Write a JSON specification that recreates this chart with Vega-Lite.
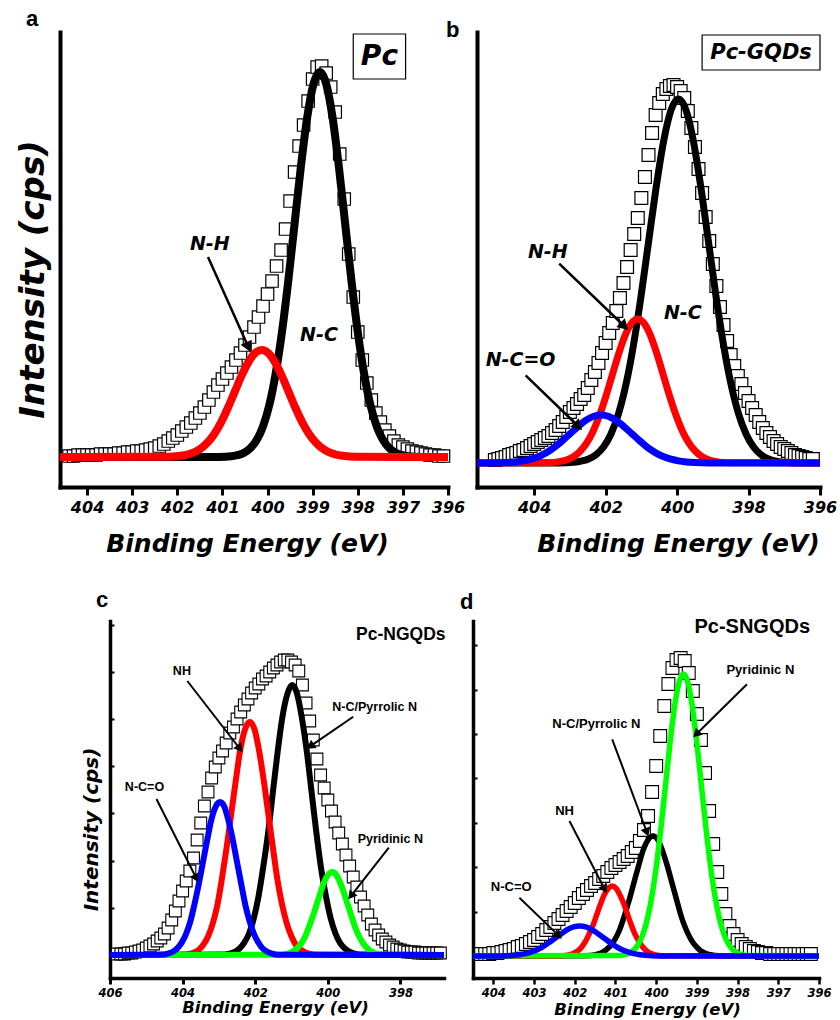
{
"$schema": "https://vega.github.io/schema/vega-lite/v6.json",
"background": "white",
"padding": {"left": 16, "top": 8, "right": 0, "bottom": 0},
"config": {
 "view": {"stroke": null},
 "axis": {"grid": false, "domainColor": "black", "tickColor": "black", "labelColor": "black", "titleColor": "black", "labelFont": "DejaVu Sans", "titleFont": "DejaVu Sans", "labelFontWeight": "bold", "labelFontStyle": "italic", "titleFontWeight": "bold", "titleFontStyle": "italic", "labelFlush": false, "labelOverlap": false, "domainCap": "square"}
},
"datasets": {
"aE": [{"E":404.4,"I":1},{"E":404.3,"I":1},{"E":404.2,"I":2},{"E":404.1,"I":2},{"E":404.0,"I":2},{"E":403.9,"I":2},{"E":403.8,"I":2},{"E":403.7,"I":3},{"E":403.6,"I":3},{"E":403.5,"I":3},{"E":403.4,"I":3},{"E":403.3,"I":4},{"E":403.2,"I":4},{"E":403.1,"I":5},{"E":403.0,"I":5},{"E":402.9,"I":6},{"E":402.8,"I":6},{"E":402.7,"I":7},{"E":402.6,"I":8},{"E":402.5,"I":9},{"E":402.4,"I":11},{"E":402.3,"I":13},{"E":402.2,"I":16},{"E":402.1,"I":19},{"E":402.0,"I":22},{"E":401.9,"I":26},{"E":401.8,"I":30},{"E":401.7,"I":34},{"E":401.6,"I":39},{"E":401.5,"I":44},{"E":401.4,"I":50},{"E":401.3,"I":57},{"E":401.2,"I":65},{"E":401.1,"I":72},{"E":401.0,"I":78},{"E":400.9,"I":84},{"E":400.8,"I":90},{"E":400.7,"I":97},{"E":400.6,"I":104},{"E":400.5,"I":112},{"E":400.4,"I":120},{"E":400.3,"I":130},{"E":400.2,"I":140},{"E":400.1,"I":151},{"E":400.0,"I":163},{"E":399.9,"I":176},{"E":399.8,"I":191},{"E":399.7,"I":207},{"E":399.6,"I":228},{"E":399.5,"I":256},{"E":399.4,"I":285},{"E":399.3,"I":311},{"E":399.2,"I":332},{"E":399.1,"I":356},{"E":399.0,"I":378},{"E":398.9,"I":390},{"E":398.8,"I":391},{"E":398.7,"I":384},{"E":398.6,"I":370},{"E":398.5,"I":345},{"E":398.4,"I":303},{"E":398.3,"I":258},{"E":398.2,"I":203},{"E":398.1,"I":160},{"E":398.0,"I":125},{"E":397.9,"I":97},{"E":397.8,"I":74},{"E":397.7,"I":57},{"E":397.6,"I":44},{"E":397.5,"I":35},{"E":397.4,"I":27},{"E":397.3,"I":21},{"E":397.2,"I":16},{"E":397.1,"I":12},{"E":397.0,"I":10},{"E":396.9,"I":8},{"E":396.8,"I":6},{"E":396.7,"I":5},{"E":396.6,"I":4},{"E":396.5,"I":3},{"E":396.4,"I":2},{"E":396.3,"I":2},{"E":396.2,"I":1},{"E":396.1,"I":1}],
"aNC": [{"E":404.6,"I":0},{"E":401.08,"I":0.1},{"E":400.8,"I":0.8},{"E":400.52,"I":4.3},{"E":400.38,"I":8.8},{"E":400.24,"I":16.9},{"E":400.1,"I":30.6},{"E":399.96,"I":52.1},{"E":399.82,"I":83.3},{"E":399.68,"I":125},{"E":399.54,"I":176.3},{"E":399.4,"I":233.5},{"E":399.26,"I":290.6},{"E":399.12,"I":339.8},{"E":398.98,"I":373.1},{"E":398.84,"I":385},{"E":398.7,"I":373.1},{"E":398.56,"I":339.8},{"E":398.42,"I":290.6},{"E":398.28,"I":233.5},{"E":398.14,"I":176.3},{"E":398.0,"I":125},{"E":397.86,"I":83.3},{"E":397.72,"I":52.1},{"E":397.58,"I":30.6},{"E":397.44,"I":16.9},{"E":397.3,"I":8.8},{"E":397.16,"I":4.3},{"E":396.88,"I":0.8},{"E":396.6,"I":0.1},{"E":396.0,"I":0}],
"aNH": [{"E":404.6,"I":0},{"E":402.23,"I":0.2},{"E":401.93,"I":1.2},{"E":401.78,"I":2.4},{"E":401.63,"I":4.7},{"E":401.48,"I":8.5},{"E":401.33,"I":14.5},{"E":401.18,"I":23.1},{"E":401.03,"I":34.7},{"E":400.88,"I":49},{"E":400.73,"I":64.9},{"E":400.58,"I":80.8},{"E":400.43,"I":94.4},{"E":400.28,"I":103.7},{"E":400.13,"I":107},{"E":399.98,"I":103.7},{"E":399.83,"I":94.4},{"E":399.68,"I":80.8},{"E":399.53,"I":64.9},{"E":399.38,"I":49},{"E":399.23,"I":34.7},{"E":399.08,"I":23.1},{"E":398.93,"I":14.5},{"E":398.78,"I":8.5},{"E":398.63,"I":4.7},{"E":398.48,"I":2.4},{"E":398.33,"I":1.2},{"E":398.03,"I":0.2},{"E":396.0,"I":0}],
"bE": [{"E":405.1,"I":3},{"E":405.0,"I":4},{"E":404.9,"I":5},{"E":404.8,"I":6},{"E":404.7,"I":8},{"E":404.6,"I":9},{"E":404.5,"I":10},{"E":404.4,"I":12},{"E":404.3,"I":13},{"E":404.2,"I":15},{"E":404.1,"I":17},{"E":404.0,"I":19},{"E":403.9,"I":21},{"E":403.8,"I":23},{"E":403.7,"I":25},{"E":403.6,"I":27},{"E":403.5,"I":30},{"E":403.4,"I":33},{"E":403.3,"I":37},{"E":403.2,"I":41},{"E":403.1,"I":46},{"E":403.0,"I":51},{"E":402.9,"I":55},{"E":402.8,"I":59},{"E":402.7,"I":64},{"E":402.6,"I":68},{"E":402.5,"I":75},{"E":402.4,"I":83},{"E":402.3,"I":91},{"E":402.2,"I":100},{"E":402.1,"I":110},{"E":402.0,"I":120},{"E":401.9,"I":130},{"E":401.8,"I":140},{"E":401.7,"I":152},{"E":401.6,"I":165},{"E":401.5,"I":180},{"E":401.4,"I":196},{"E":401.3,"I":213},{"E":401.2,"I":229},{"E":401.1,"I":245},{"E":401.0,"I":265},{"E":400.9,"I":286},{"E":400.8,"I":308},{"E":400.7,"I":330},{"E":400.6,"I":348},{"E":400.5,"I":360},{"E":400.4,"I":369},{"E":400.3,"I":374},{"E":400.2,"I":377},{"E":400.1,"I":378},{"E":400.0,"I":376},{"E":399.9,"I":372},{"E":399.8,"I":365},{"E":399.7,"I":352},{"E":399.6,"I":335},{"E":399.5,"I":316},{"E":399.4,"I":294},{"E":399.3,"I":270},{"E":399.2,"I":246},{"E":399.1,"I":222},{"E":399.0,"I":199},{"E":398.9,"I":177},{"E":398.8,"I":156},{"E":398.7,"I":138},{"E":398.6,"I":122},{"E":398.5,"I":108},{"E":398.4,"I":97},{"E":398.3,"I":87},{"E":398.2,"I":79},{"E":398.1,"I":70},{"E":398.0,"I":62},{"E":397.9,"I":55},{"E":397.8,"I":48},{"E":397.7,"I":41},{"E":397.6,"I":35},{"E":397.5,"I":30},{"E":397.4,"I":26},{"E":397.3,"I":22},{"E":397.2,"I":19},{"E":397.1,"I":16},{"E":397.0,"I":14},{"E":396.9,"I":12},{"E":396.8,"I":10},{"E":396.7,"I":8},{"E":396.6,"I":7},{"E":396.5,"I":6},{"E":396.4,"I":5},{"E":396.3,"I":4},{"E":396.2,"I":4}],
"bNC": [{"E":405.6,"I":0},{"E":403.32,"I":0.1},{"E":402.9,"I":0.8},{"E":402.48,"I":4.0},{"E":402.27,"I":8.3},{"E":402.06,"I":16.0},{"E":401.85,"I":29.0},{"E":401.64,"I":49.2},{"E":401.43,"I":78.7},{"E":401.22,"I":118.2},{"E":401.01,"I":166.6},{"E":400.8,"I":220.8},{"E":400.59,"I":274.7},{"E":400.38,"I":321.2},{"E":400.17,"I":352.8},{"E":399.96,"I":364},{"E":399.75,"I":352.8},{"E":399.54,"I":321.2},{"E":399.33,"I":274.7},{"E":399.12,"I":220.8},{"E":398.91,"I":166.6},{"E":398.7,"I":118.2},{"E":398.49,"I":78.7},{"E":398.28,"I":49.2},{"E":398.07,"I":29.0},{"E":397.86,"I":16.0},{"E":397.65,"I":8.3},{"E":397.44,"I":4.0},{"E":397.02,"I":0.8},{"E":396.6,"I":0.1},{"E":396.0,"I":0}],
"bNH": [{"E":405.6,"I":0},{"E":403.62,"I":0.3},{"E":403.26,"I":1.6},{"E":403.08,"I":3.3},{"E":402.9,"I":6.3},{"E":402.72,"I":11.5},{"E":402.54,"I":19.5},{"E":402.36,"I":31.1},{"E":402.18,"I":46.8},{"E":402.0,"I":65.9},{"E":401.82,"I":87.3},{"E":401.64,"I":108.7},{"E":401.46,"I":127.1},{"E":401.28,"I":139.6},{"E":401.1,"I":144},{"E":400.92,"I":139.6},{"E":400.74,"I":127.1},{"E":400.56,"I":108.7},{"E":400.38,"I":87.3},{"E":400.2,"I":65.9},{"E":400.02,"I":46.8},{"E":399.84,"I":31.1},{"E":399.66,"I":19.5},{"E":399.48,"I":11.5},{"E":399.3,"I":6.3},{"E":399.12,"I":3.3},{"E":398.94,"I":1.6},{"E":398.58,"I":0.3},{"E":396.0,"I":0}],
"bNCO": [{"E":405.6,"I":0},{"E":405.18,"I":0.1},{"E":404.74,"I":0.5},{"E":404.52,"I":1.1},{"E":404.31,"I":2.1},{"E":404.09,"I":3.8},{"E":403.87,"I":6.5},{"E":403.65,"I":10.4},{"E":403.44,"I":15.6},{"E":403.22,"I":22.0},{"E":403.0,"I":29.1},{"E":402.78,"I":36.2},{"E":402.57,"I":42.4},{"E":402.35,"I":46.5},{"E":402.13,"I":48},{"E":401.91,"I":46.5},{"E":401.7,"I":42.4},{"E":401.48,"I":36.2},{"E":401.26,"I":29.1},{"E":401.04,"I":22.0},{"E":400.83,"I":15.6},{"E":400.61,"I":10.4},{"E":400.39,"I":6.5},{"E":400.17,"I":3.8},{"E":399.96,"I":2.1},{"E":399.74,"I":1.1},{"E":399.52,"I":0.5},{"E":399.09,"I":0.1},{"E":396.0,"I":0}],
"cE": [{"E":405.8,"I":1},{"E":405.7,"I":1},{"E":405.6,"I":1},{"E":405.5,"I":2},{"E":405.4,"I":2},{"E":405.3,"I":3},{"E":405.2,"I":4},{"E":405.1,"I":5},{"E":405.0,"I":7},{"E":404.9,"I":9},{"E":404.8,"I":11},{"E":404.7,"I":14},{"E":404.6,"I":17},{"E":404.5,"I":21},{"E":404.4,"I":27},{"E":404.3,"I":35},{"E":404.2,"I":44},{"E":404.1,"I":54},{"E":404.0,"I":64},{"E":403.9,"I":74},{"E":403.8,"I":84},{"E":403.7,"I":97},{"E":403.6,"I":115},{"E":403.5,"I":132},{"E":403.4,"I":149},{"E":403.3,"I":163},{"E":403.2,"I":177},{"E":403.1,"I":188},{"E":403.0,"I":197},{"E":402.9,"I":204},{"E":402.8,"I":212},{"E":402.7,"I":222},{"E":402.6,"I":228},{"E":402.5,"I":236},{"E":402.4,"I":243},{"E":402.3,"I":250},{"E":402.2,"I":256},{"E":402.1,"I":262},{"E":402.0,"I":267},{"E":401.9,"I":271},{"E":401.8,"I":276},{"E":401.7,"I":279},{"E":401.6,"I":283},{"E":401.5,"I":287},{"E":401.4,"I":290},{"E":401.3,"I":293},{"E":401.2,"I":295},{"E":401.1,"I":295},{"E":401.0,"I":293},{"E":400.9,"I":290},{"E":400.8,"I":284},{"E":400.7,"I":270},{"E":400.6,"I":252},{"E":400.5,"I":234},{"E":400.4,"I":215},{"E":400.3,"I":196},{"E":400.2,"I":180},{"E":400.1,"I":167},{"E":400.0,"I":155},{"E":399.9,"I":144},{"E":399.8,"I":133},{"E":399.7,"I":122},{"E":399.6,"I":111},{"E":399.5,"I":100},{"E":399.4,"I":89},{"E":399.3,"I":78},{"E":399.2,"I":68},{"E":399.1,"I":58},{"E":399.0,"I":49},{"E":398.9,"I":40},{"E":398.8,"I":31},{"E":398.7,"I":25},{"E":398.6,"I":20},{"E":398.5,"I":16},{"E":398.4,"I":13},{"E":398.3,"I":10},{"E":398.2,"I":8},{"E":398.1,"I":6},{"E":398.0,"I":5},{"E":397.9,"I":4},{"E":397.8,"I":3},{"E":397.7,"I":3},{"E":397.6,"I":3},{"E":397.5,"I":2},{"E":397.4,"I":2},{"E":397.3,"I":2},{"E":397.2,"I":2},{"E":397.1,"I":2},{"E":397.0,"I":2},{"E":396.9,"I":2}],
"cNC": [{"E":406,"I":0},{"E":402.84,"I":0.6},{"E":402.57,"I":3.0},{"E":402.44,"I":6.2},{"E":402.31,"I":11.9},{"E":402.17,"I":21.5},{"E":402.04,"I":36.5},{"E":401.91,"I":58.4},{"E":401.78,"I":87.7},{"E":401.64,"I":123.6},{"E":401.51,"I":163.8},{"E":401.38,"I":203.8},{"E":401.25,"I":238.3},{"E":401.11,"I":261.7},{"E":400.98,"I":270},{"E":400.85,"I":261.7},{"E":400.72,"I":238.3},{"E":400.58,"I":203.8},{"E":400.45,"I":163.8},{"E":400.32,"I":123.6},{"E":400.19,"I":87.7},{"E":400.05,"I":58.4},{"E":399.92,"I":36.5},{"E":399.79,"I":21.5},{"E":399.66,"I":11.9},{"E":399.52,"I":6.2},{"E":399.39,"I":3.0},{"E":399.13,"I":0.6},{"E":396.8,"I":0}],
"cNH": [{"E":406,"I":0},{"E":403.94,"I":0.5},{"E":403.68,"I":2.6},{"E":403.55,"I":5.3},{"E":403.43,"I":10.2},{"E":403.3,"I":18.5},{"E":403.17,"I":31.5},{"E":403.04,"I":50.4},{"E":402.92,"I":75.7},{"E":402.79,"I":106.7},{"E":402.66,"I":141.3},{"E":402.53,"I":175.9},{"E":402.41,"I":205.6},{"E":402.28,"I":225.8},{"E":402.15,"I":233},{"E":402.02,"I":225.8},{"E":401.9,"I":205.6},{"E":401.77,"I":175.9},{"E":401.64,"I":141.3},{"E":401.51,"I":106.7},{"E":401.39,"I":75.7},{"E":401.26,"I":50.4},{"E":401.13,"I":31.5},{"E":401.0,"I":18.5},{"E":400.88,"I":10.2},{"E":400.75,"I":5.3},{"E":400.62,"I":2.6},{"E":400.37,"I":0.5},{"E":396.8,"I":0}],
"cNCO": [{"E":406,"I":0},{"E":404.62,"I":0.3},{"E":404.38,"I":1.7},{"E":404.26,"I":3.5},{"E":404.15,"I":6.7},{"E":404.03,"I":12.2},{"E":403.91,"I":20.7},{"E":403.79,"I":33.1},{"E":403.68,"I":49.7},{"E":403.56,"I":70.0},{"E":403.44,"I":92.8},{"E":403.32,"I":115.5},{"E":403.21,"I":135.0},{"E":403.09,"I":148.3},{"E":402.97,"I":153},{"E":402.85,"I":148.3},{"E":402.74,"I":135.0},{"E":402.62,"I":115.5},{"E":402.5,"I":92.8},{"E":402.38,"I":70.0},{"E":402.27,"I":49.7},{"E":402.15,"I":33.1},{"E":402.03,"I":20.7},{"E":401.91,"I":12.2},{"E":401.8,"I":6.7},{"E":401.68,"I":3.5},{"E":401.56,"I":1.7},{"E":401.33,"I":0.3},{"E":396.8,"I":0}],
"cPy": [{"E":406,"I":0},{"E":401.39,"I":0.2},{"E":401.17,"I":0.9},{"E":401.06,"I":1.9},{"E":400.96,"I":3.6},{"E":400.85,"I":6.6},{"E":400.74,"I":11.2},{"E":400.63,"I":18.0},{"E":400.53,"I":27.0},{"E":400.42,"I":38.0},{"E":400.31,"I":50.3},{"E":400.2,"I":62.6},{"E":400.1,"I":73.2},{"E":399.99,"I":80.4},{"E":399.88,"I":83},{"E":399.77,"I":80.4},{"E":399.67,"I":73.2},{"E":399.56,"I":62.6},{"E":399.45,"I":50.3},{"E":399.34,"I":38.0},{"E":399.24,"I":27.0},{"E":399.13,"I":18.0},{"E":399.02,"I":11.2},{"E":398.91,"I":6.6},{"E":398.81,"I":3.6},{"E":398.7,"I":1.9},{"E":398.59,"I":0.9},{"E":398.38,"I":0.2},{"E":396.8,"I":0}],
"dE": [{"E":404.3,"I":2},{"E":404.2,"I":2},{"E":404.1,"I":2},{"E":404.0,"I":3},{"E":403.9,"I":3},{"E":403.8,"I":4},{"E":403.7,"I":5},{"E":403.6,"I":6},{"E":403.5,"I":7},{"E":403.4,"I":9},{"E":403.3,"I":10},{"E":403.2,"I":12},{"E":403.1,"I":14},{"E":403.0,"I":16},{"E":402.9,"I":19},{"E":402.8,"I":22},{"E":402.7,"I":26},{"E":402.6,"I":29},{"E":402.5,"I":33},{"E":402.4,"I":37},{"E":402.3,"I":41},{"E":402.2,"I":45},{"E":402.1,"I":49},{"E":402.0,"I":53},{"E":401.9,"I":58},{"E":401.8,"I":62},{"E":401.7,"I":66},{"E":401.6,"I":70},{"E":401.5,"I":73},{"E":401.4,"I":77},{"E":401.3,"I":80},{"E":401.2,"I":84},{"E":401.1,"I":88},{"E":401.0,"I":91},{"E":400.9,"I":94},{"E":400.8,"I":97},{"E":400.7,"I":100},{"E":400.6,"I":104},{"E":400.5,"I":108},{"E":400.4,"I":115},{"E":400.3,"I":126},{"E":400.2,"I":140},{"E":400.1,"I":164},{"E":400.0,"I":190},{"E":399.9,"I":220},{"E":399.8,"I":250},{"E":399.7,"I":272},{"E":399.6,"I":288},{"E":399.5,"I":296},{"E":399.4,"I":298},{"E":399.3,"I":295},{"E":399.2,"I":283},{"E":399.1,"I":265},{"E":399.0,"I":242},{"E":398.9,"I":216},{"E":398.8,"I":183},{"E":398.7,"I":145},{"E":398.6,"I":112},{"E":398.5,"I":84},{"E":398.4,"I":62},{"E":398.3,"I":42},{"E":398.2,"I":30},{"E":398.1,"I":22},{"E":398.0,"I":16},{"E":397.9,"I":12},{"E":397.8,"I":9},{"E":397.7,"I":7},{"E":397.6,"I":5},{"E":397.5,"I":4},{"E":397.4,"I":3},{"E":397.3,"I":3},{"E":397.2,"I":2},{"E":397.1,"I":2},{"E":397.0,"I":2},{"E":396.9,"I":2},{"E":396.8,"I":2},{"E":396.7,"I":2},{"E":396.6,"I":2},{"E":396.5,"I":2},{"E":396.4,"I":2},{"E":396.3,"I":2},{"E":396.2,"I":2}],
"dPy": [{"E":404.5,"I":0},{"E":400.87,"I":0.6},{"E":400.65,"I":3.1},{"E":400.54,"I":6.4},{"E":400.43,"I":12.4},{"E":400.32,"I":22.4},{"E":400.21,"I":38.2},{"E":400.1,"I":61.0},{"E":399.99,"I":91.6},{"E":399.88,"I":129.1},{"E":399.77,"I":171.0},{"E":399.66,"I":212.9},{"E":399.55,"I":248.9},{"E":399.44,"I":273.3},{"E":399.33,"I":282},{"E":399.22,"I":273.3},{"E":399.11,"I":248.9},{"E":399.0,"I":212.9},{"E":398.89,"I":171.0},{"E":398.78,"I":129.1},{"E":398.67,"I":91.6},{"E":398.56,"I":61.0},{"E":398.45,"I":38.2},{"E":398.34,"I":22.4},{"E":398.23,"I":12.4},{"E":398.12,"I":6.4},{"E":398.01,"I":3.1},{"E":397.79,"I":0.6},{"E":396.0,"I":0}],
"dNC": [{"E":404.5,"I":0},{"E":401.73,"I":0.3},{"E":401.49,"I":1.3},{"E":401.37,"I":2.7},{"E":401.26,"I":5.3},{"E":401.14,"I":9.6},{"E":401.02,"I":16.2},{"E":400.9,"I":26.0},{"E":400.79,"I":39.0},{"E":400.67,"I":54.9},{"E":400.55,"I":72.8},{"E":400.43,"I":90.6},{"E":400.32,"I":105.9},{"E":400.2,"I":116.3},{"E":400.08,"I":120},{"E":399.96,"I":116.3},{"E":399.85,"I":105.9},{"E":399.73,"I":90.6},{"E":399.61,"I":72.8},{"E":399.49,"I":54.9},{"E":399.38,"I":39.0},{"E":399.26,"I":26.0},{"E":399.14,"I":16.2},{"E":399.02,"I":9.6},{"E":398.91,"I":5.3},{"E":398.79,"I":2.7},{"E":398.67,"I":1.3},{"E":398.44,"I":0.3},{"E":396.0,"I":0}],
"dNH": [{"E":404.5,"I":0},{"E":402.38,"I":0.2},{"E":402.19,"I":0.8},{"E":402.1,"I":1.6},{"E":402.01,"I":3.1},{"E":401.91,"I":5.6},{"E":401.82,"I":9.5},{"E":401.73,"I":15.1},{"E":401.64,"I":22.7},{"E":401.54,"I":32.0},{"E":401.45,"I":42.5},{"E":401.36,"I":52.8},{"E":401.27,"I":61.8},{"E":401.17,"I":67.8},{"E":401.08,"I":70},{"E":400.99,"I":67.8},{"E":400.9,"I":61.8},{"E":400.8,"I":52.8},{"E":400.71,"I":42.5},{"E":400.62,"I":32.0},{"E":400.53,"I":22.7},{"E":400.43,"I":15.1},{"E":400.34,"I":9.5},{"E":400.25,"I":5.6},{"E":400.16,"I":3.1},{"E":400.06,"I":1.6},{"E":399.97,"I":0.8},{"E":399.79,"I":0.2},{"E":396.0,"I":0}],
"dNCO": [{"E":404.5,"I":0},{"E":403.95,"I":0.1},{"E":403.65,"I":0.3},{"E":403.5,"I":0.7},{"E":403.36,"I":1.3},{"E":403.21,"I":2.4},{"E":403.06,"I":4.1},{"E":402.91,"I":6.5},{"E":402.77,"I":9.7},{"E":402.62,"I":13.7},{"E":402.47,"I":18.2},{"E":402.32,"I":22.6},{"E":402.18,"I":26.5},{"E":402.03,"I":29.1},{"E":401.88,"I":30},{"E":401.73,"I":29.1},{"E":401.59,"I":26.5},{"E":401.44,"I":22.6},{"E":401.29,"I":18.2},{"E":401.14,"I":13.7},{"E":400.99,"I":9.7},{"E":400.85,"I":6.5},{"E":400.7,"I":4.1},{"E":400.55,"I":2.4},{"E":400.4,"I":1.3},{"E":400.26,"I":0.7},{"E":400.11,"I":0.3},{"E":399.82,"I":0.1},{"E":396.0,"I":0}]
},
"bounds": "full",
"spacing": 33,
"vconcat": [
{"hconcat": [
{
 "width": 388, "height": 455,
 "title": {"text": "a", "frame": "group", "anchor": "start", "dx": -34, "dy": 18, "offset": 2, "baseline": "alphabetic", "font": "Liberation Sans", "fontSize": 22, "fontWeight": "bold", "color": "black"},
 "layer": [
  {"encoding": {
    "x": {"field": "E", "type": "quantitative", "scale": {"domain": [396, 404.6], "reverse": true, "nice": false, "zero": false},
     "axis": {"values": [404,403,402,401,400,399,398,397,396], "format": "d", "title": "Binding Energy (eV)", "domainWidth": 4, "tickWidth": 3, "tickSize": 8, "labelFontSize": 16, "labelPadding": 4, "titleFontSize": 25, "titlePadding": 16, "titleX": 187}},
    "y": {"field": "I", "type": "quantitative", "scale": {"domain": [-30, 425], "nice": false, "zero": false},
     "axis": {"title": "Intensity (cps)", "labels": false, "ticks": false, "domainWidth": 4, "titleFontSize": 34, "titlePadding": 10, "titleY": 247}}
   },
   "layer": [
    {"data": {"name": "aE"}, "mark": {"type": "point", "shape": "square", "size": 155, "filled": true, "fill": "white", "stroke": "black", "strokeWidth": 1.2, "opacity": 1}},
    {"data": {"name": "aNC"}, "mark": {"type": "line", "color": "black", "strokeWidth": 8, "interpolate": "monotone"}},
    {"data": {"name": "aNH"}, "mark": {"type": "line", "color": "#ff0000", "strokeWidth": 8, "interpolate": "monotone"}}
   ]},
  {"data": {"values": [{}]}, "mark": {"type": "rect", "fill": "white", "stroke": "black", "strokeWidth": 1.2}, "encoding": {"x": {"datum": 398.1}, "x2": {"datum": 396.94}, "y": {"datum": 378}, "y2": {"datum": 423}}},
  {"data": {"values": [{}]}, "mark": {"type": "text", "text": "Pc", "font": "DejaVu Sans", "fontSize": 28, "fontWeight": "bold", "fontStyle": "italic", "color": "black"}, "encoding": {"x": {"datum": 397.52}, "y": {"datum": 400}}},
  {"data": {"values": [{}]}, "mark": {"type": "text", "text": "N-H", "font": "DejaVu Sans", "fontSize": 19, "fontWeight": "bold", "fontStyle": "italic", "color": "black"}, "encoding": {"x": {"datum": 401.28}, "y": {"datum": 213}}},
  {"data": {"values": [{}]}, "mark": {"type": "text", "text": "N-C", "font": "DejaVu Sans", "fontSize": 19, "fontWeight": "bold", "fontStyle": "italic", "color": "black"}, "encoding": {"x": {"datum": 398.86}, "y": {"datum": 122}}},
  {"data": {"values": [{}]}, "mark": {"type": "rule", "color": "black", "strokeWidth": 2.5}, "encoding": {"x": {"datum": 401.32}, "y": {"datum": 200}, "x2": {"datum": 400.44}, "y2": {"datum": 111.5}}},
  {"data": {"values": [{}]}, "mark": {"type": "point", "shape": "triangle", "filled": true, "color": "black", "opacity": 1, "size": 150, "angle": 155.9}, "encoding": {"x": {"datum": 400.44}, "y": {"datum": 111.5}}}
 ]
},
{
 "width": 343, "height": 455,
 "title": {"text": "b", "frame": "group", "anchor": "start", "dx": -31, "dy": 29, "offset": 2, "baseline": "alphabetic", "font": "Liberation Sans", "fontSize": 22, "fontWeight": "bold", "color": "black"},
 "layer": [
  {"encoding": {
    "x": {"field": "E", "type": "quantitative", "scale": {"domain": [396, 405.6], "reverse": true, "nice": false, "zero": false},
     "axis": {"values": [404,402,400,398,396], "format": "d", "title": "Binding Energy (eV)", "domainWidth": 4, "tickWidth": 3, "tickSize": 8, "labelFontSize": 16, "labelPadding": 4, "titleFontSize": 25, "titlePadding": 16, "titleX": 201}},
    "y": {"field": "I", "type": "quantitative", "scale": {"domain": [-24, 431], "nice": false, "zero": false},
     "axis": {"title": null, "labels": false, "ticks": false, "domainWidth": 4}}
   },
   "layer": [
    {"data": {"name": "bE"}, "mark": {"type": "point", "shape": "square", "size": 165, "filled": true, "fill": "white", "stroke": "black", "strokeWidth": 1.2, "opacity": 1}},
    {"data": {"name": "bNC"}, "mark": {"type": "line", "color": "black", "strokeWidth": 7, "interpolate": "monotone"}},
    {"data": {"name": "bNH"}, "mark": {"type": "line", "color": "#ff0000", "strokeWidth": 7, "interpolate": "monotone"}},
    {"data": {"name": "bNCO"}, "mark": {"type": "line", "color": "#0000ff", "strokeWidth": 7, "interpolate": "monotone"}}
   ]},
  {"data": {"values": [{}]}, "mark": {"type": "rect", "fill": "white", "stroke": "black", "strokeWidth": 1.2}, "encoding": {"x": {"datum": 399.3}, "x2": {"datum": 396.0}, "y": {"datum": 393}, "y2": {"datum": 428}}},
  {"data": {"values": [{}]}, "mark": {"type": "text", "text": "Pc-GQDs", "font": "DejaVu Sans", "fontSize": 21, "fontWeight": "bold", "fontStyle": "italic", "color": "black"}, "encoding": {"x": {"datum": 397.65}, "y": {"datum": 410}}},
  {"data": {"values": [{}]}, "mark": {"type": "text", "text": "N-H", "font": "DejaVu Sans", "fontSize": 19, "fontWeight": "bold", "fontStyle": "italic", "color": "black"}, "encoding": {"x": {"datum": 403.62}, "y": {"datum": 211}}},
  {"data": {"values": [{}]}, "mark": {"type": "text", "text": "N-C", "font": "DejaVu Sans", "fontSize": 19, "fontWeight": "bold", "fontStyle": "italic", "color": "black"}, "encoding": {"x": {"datum": 399.84}, "y": {"datum": 150}}},
  {"data": {"values": [{}]}, "mark": {"type": "text", "text": "N-C=O", "font": "DejaVu Sans", "fontSize": 19, "fontWeight": "bold", "fontStyle": "italic", "color": "black"}, "encoding": {"x": {"datum": 404.38}, "y": {"datum": 103}}},
  {"data": {"values": [{}]}, "mark": {"type": "rule", "color": "black", "strokeWidth": 2.5}, "encoding": {"x": {"datum": 403.3}, "y": {"datum": 199.3}, "x2": {"datum": 401.51}, "y2": {"datum": 138}}},
  {"data": {"values": [{}]}, "mark": {"type": "point", "shape": "triangle", "filled": true, "color": "black", "opacity": 1, "size": 150, "angle": 133.9}, "encoding": {"x": {"datum": 401.51}, "y": {"datum": 138}}},
  {"data": {"values": [{}]}, "mark": {"type": "rule", "color": "black", "strokeWidth": 2.5}, "encoding": {"x": {"datum": 404.24}, "y": {"datum": 87.7}, "x2": {"datum": 402.8}, "y2": {"datum": 38}}},
  {"data": {"values": [{}]}, "mark": {"type": "point", "shape": "triangle", "filled": true, "color": "black", "opacity": 1, "size": 150, "angle": 134.2}, "encoding": {"x": {"datum": 402.8}, "y": {"datum": 38}}}
 ]
}
], "spacing": 29, "bounds": "flush"},
{"hconcat": [
{"width": 21, "height": 357, "data": {"values": []}, "mark": "point"},
{
 "width": 334, "height": 357,
 "title": {"text": "c", "frame": "group", "anchor": "start", "dx": -14, "dy": 23, "offset": 15, "baseline": "alphabetic", "font": "Liberation Sans", "fontSize": 22, "fontWeight": "bold", "color": "black"},
 "layer": [
  {"encoding": {
    "x": {"field": "E", "type": "quantitative", "scale": {"domain": [396.8, 406], "reverse": true, "nice": false, "zero": false},
     "axis": {"values": [406,404,402,400,398], "format": "d", "title": "Binding Energy (eV)", "domainWidth": 3.5, "tickWidth": 3, "tickSize": 6, "labelFontSize": 11.5, "labelPadding": 3, "titleFontSize": 16.5, "titlePadding": 1, "titleX": 165}},
    "y": {"field": "I", "type": "quantitative", "scale": {"domain": [-23, 334], "nice": false, "zero": false},
     "axis": {"title": "Intensity (cps)", "labels": false, "values": [0,23.6,47.2,70.8,94.4,118,141.6,165.2,188.8,212.4,236,259.6,283.2,306.8,330.4], "tickSize": -4, "tickWidth": 2, "domainWidth": 3.5, "titleFontSize": 20, "titlePadding": 8, "titleY": 208}}
   },
   "layer": [
    {"data": {"name": "cE"}, "mark": {"type": "point", "shape": "square", "size": 140, "filled": true, "fill": "white", "stroke": "black", "strokeWidth": 1.1, "opacity": 1}},
    {"data": {"name": "cNC"}, "mark": {"type": "line", "color": "black", "strokeWidth": 6, "interpolate": "monotone"}},
    {"data": {"name": "cNH"}, "mark": {"type": "line", "color": "#ff0000", "strokeWidth": 6, "interpolate": "monotone"}},
    {"data": {"name": "cPy"}, "mark": {"type": "line", "color": "#00ff00", "strokeWidth": 6, "interpolate": "monotone"}},
    {"data": {"name": "cNCO"}, "mark": {"type": "line", "color": "#0000ff", "strokeWidth": 6, "interpolate": "monotone"}}
   ]},
  {"data": {"values": [{}]}, "mark": {"type": "text", "text": "Pc-NGQDs", "font": "Liberation Sans", "fontSize": 17.5, "fontWeight": "bold", "color": "black"}, "encoding": {"x": {"datum": 397.99}, "y": {"datum": 320}}},
  {"data": {"values": [{}]}, "mark": {"type": "text", "text": "NH", "font": "Liberation Sans", "fontSize": 12.5, "fontWeight": "bold", "color": "black"}, "encoding": {"x": {"datum": 404.02}, "y": {"datum": 284}}},
  {"data": {"values": [{}]}, "mark": {"type": "text", "text": "N-C/Pyrrolic N", "font": "Liberation Sans", "fontSize": 12.5, "fontWeight": "bold", "color": "black"}, "encoding": {"x": {"datum": 398.71}, "y": {"datum": 248}}},
  {"data": {"values": [{}]}, "mark": {"type": "text", "text": "N-C=O", "font": "Liberation Sans", "fontSize": 12.5, "fontWeight": "bold", "color": "black"}, "encoding": {"x": {"datum": 405.05}, "y": {"datum": 168}}},
  {"data": {"values": [{}]}, "mark": {"type": "text", "text": "Pyridinic N", "font": "Liberation Sans", "fontSize": 12.5, "fontWeight": "bold", "color": "black"}, "encoding": {"x": {"datum": 398.28}, "y": {"datum": 116}}},
  {"data": {"values": [{}]}, "mark": {"type": "rule", "color": "black", "strokeWidth": 2}, "encoding": {"x": {"datum": 403.87}, "y": {"datum": 274}, "x2": {"datum": 402.45}, "y2": {"datum": 207.5}}},
  {"data": {"values": [{}]}, "mark": {"type": "point", "shape": "triangle", "filled": true, "color": "black", "opacity": 1, "size": 100, "angle": 142.1}, "encoding": {"x": {"datum": 402.45}, "y": {"datum": 207.5}}},
  {"data": {"values": [{}]}, "mark": {"type": "rule", "color": "black", "strokeWidth": 2}, "encoding": {"x": {"datum": 399.3}, "y": {"datum": 238.3}, "x2": {"datum": 400.45}, "y2": {"datum": 209.6}}},
  {"data": {"values": [{}]}, "mark": {"type": "point", "shape": "triangle", "filled": true, "color": "black", "opacity": 1, "size": 100, "angle": 235.4}, "encoding": {"x": {"datum": 400.45}, "y": {"datum": 209.6}}},
  {"data": {"values": [{}]}, "mark": {"type": "rule", "color": "black", "strokeWidth": 2}, "encoding": {"x": {"datum": 404.72}, "y": {"datum": 156}, "x2": {"datum": 403.64}, "y2": {"datum": 78}}},
  {"data": {"values": [{}]}, "mark": {"type": "point", "shape": "triangle", "filled": true, "color": "black", "opacity": 1, "size": 100, "angle": 153.2}, "encoding": {"x": {"datum": 403.64}, "y": {"datum": 78}}},
  {"data": {"values": [{}]}, "mark": {"type": "rule", "color": "black", "strokeWidth": 2}, "encoding": {"x": {"datum": 398.32}, "y": {"datum": 107.3}, "x2": {"datum": 399.34}, "y2": {"datum": 60.2}}},
  {"data": {"values": [{}]}, "mark": {"type": "point", "shape": "triangle", "filled": true, "color": "black", "opacity": 1, "size": 100, "angle": 217.9}, "encoding": {"x": {"datum": 399.34}, "y": {"datum": 60.2}}}
 ]
},
{
 "width": 346, "height": 357,
 "title": {"text": "d", "frame": "group", "anchor": "start", "dx": -13, "dy": 26, "offset": 12, "baseline": "alphabetic", "font": "Liberation Sans", "fontSize": 22, "fontWeight": "bold", "color": "black"},
 "layer": [
  {"encoding": {
    "x": {"field": "E", "type": "quantitative", "scale": {"domain": [396, 404.5], "reverse": true, "nice": false, "zero": false},
     "axis": {"values": [404,403,402,401,400,399,398,397,396], "format": "d", "title": "Binding Energy (eV)", "domainWidth": 3.5, "tickWidth": 2.5, "tickSize": 6, "labelFontSize": 11.5, "labelPadding": 3, "titleFontSize": 16.5, "titlePadding": 3, "titleX": 174}},
    "y": {"field": "I", "type": "quantitative", "scale": {"domain": [-22, 335], "nice": false, "zero": false},
     "axis": {"title": null, "labels": false, "values": [0,22.2,44.4,66.6,88.8,111,133.2,155.4,177.6,199.8,222,244.2,266.4,288.6,310.8], "tickSize": -4, "tickWidth": 2, "domainWidth": 3.5}}
   },
   "layer": [
    {"data": {"name": "dE"}, "mark": {"type": "point", "shape": "square", "size": 165, "filled": true, "fill": "white", "stroke": "black", "strokeWidth": 1.1, "opacity": 1}},
    {"data": {"name": "dNC"}, "mark": {"type": "line", "color": "black", "strokeWidth": 5.5, "interpolate": "monotone"}},
    {"data": {"name": "dNH"}, "mark": {"type": "line", "color": "#ff0000", "strokeWidth": 5.5, "interpolate": "monotone"}},
    {"data": {"name": "dPy"}, "mark": {"type": "line", "color": "#00ff00", "strokeWidth": 5.5, "interpolate": "monotone"}},
    {"data": {"name": "dNCO"}, "mark": {"type": "line", "color": "#0000ff", "strokeWidth": 5.5, "interpolate": "monotone"}}
   ]},
  {"data": {"values": [{}]}, "mark": {"type": "text", "text": "Pc-SNGQDs", "font": "Liberation Sans", "fontSize": 20, "fontWeight": "bold", "color": "black"}, "encoding": {"x": {"datum": 397.64}, "y": {"datum": 329.5}}},
  {"data": {"values": [{}]}, "mark": {"type": "text", "text": "Pyridinic N", "font": "Liberation Sans", "fontSize": 13, "fontWeight": "bold", "color": "black"}, "encoding": {"x": {"datum": 397.44}, "y": {"datum": 286}}},
  {"data": {"values": [{}]}, "mark": {"type": "text", "text": "N-C/Pyrrolic N", "font": "Liberation Sans", "fontSize": 13, "fontWeight": "bold", "color": "black"}, "encoding": {"x": {"datum": 401.47}, "y": {"datum": 232}}},
  {"data": {"values": [{}]}, "mark": {"type": "text", "text": "NH", "font": "Liberation Sans", "fontSize": 13, "fontWeight": "bold", "color": "black"}, "encoding": {"x": {"datum": 402.25}, "y": {"datum": 145}}},
  {"data": {"values": [{}]}, "mark": {"type": "text", "text": "N-C=O", "font": "Liberation Sans", "fontSize": 13, "fontWeight": "bold", "color": "black"}, "encoding": {"x": {"datum": 403.56}, "y": {"datum": 69}}},
  {"data": {"values": [{}]}, "mark": {"type": "rule", "color": "black", "strokeWidth": 2}, "encoding": {"x": {"datum": 397.77}, "y": {"datum": 271.7}, "x2": {"datum": 398.99}, "y2": {"datum": 222.7}}},
  {"data": {"values": [{}]}, "mark": {"type": "point", "shape": "triangle", "filled": true, "color": "black", "opacity": 1, "size": 100, "angle": 225.3}, "encoding": {"x": {"datum": 398.99}, "y": {"datum": 222.7}}},
  {"data": {"values": [{}]}, "mark": {"type": "rule", "color": "black", "strokeWidth": 2}, "encoding": {"x": {"datum": 401.08}, "y": {"datum": 216.7}, "x2": {"datum": 400.24}, "y2": {"datum": 125}}},
  {"data": {"values": [{}]}, "mark": {"type": "point", "shape": "triangle", "filled": true, "color": "black", "opacity": 1, "size": 100, "angle": 159.6}, "encoding": {"x": {"datum": 400.24}, "y": {"datum": 125}}},
  {"data": {"values": [{}]}, "mark": {"type": "rule", "color": "black", "strokeWidth": 2}, "encoding": {"x": {"datum": 402.13}, "y": {"datum": 135}, "x2": {"datum": 401.28}, "y2": {"datum": 68}}},
  {"data": {"values": [{}]}, "mark": {"type": "point", "shape": "triangle", "filled": true, "color": "black", "opacity": 1, "size": 100, "angle": 152.9}, "encoding": {"x": {"datum": 401.28}, "y": {"datum": 68}}},
  {"data": {"values": [{}]}, "mark": {"type": "rule", "color": "black", "strokeWidth": 2}, "encoding": {"x": {"datum": 403.36}, "y": {"datum": 58.3}, "x2": {"datum": 402.42}, "y2": {"datum": 21.4}}},
  {"data": {"values": [{}]}, "mark": {"type": "point", "shape": "triangle", "filled": true, "color": "black", "opacity": 1, "size": 100, "angle": 134.2}, "encoding": {"x": {"datum": 402.42}, "y": {"datum": 21.4}}}
 ]
}
], "spacing": 29, "bounds": "flush"}
]
}
